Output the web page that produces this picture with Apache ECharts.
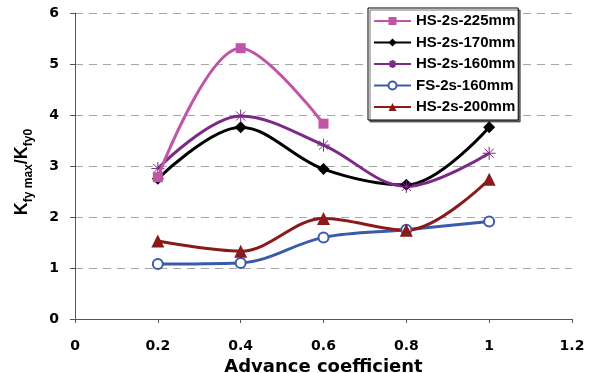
<!DOCTYPE html>
<html><head><meta charset="utf-8">
<script src="https://cdn.jsdelivr.net/npm/echarts@6/dist/echarts.min.js"></script>
<style>html,body{margin:0;padding:0;background:#fff}#c{width:595px;height:373px}</style>
</head><body><div id="c"></div>
<script>
const xValues = [0.2, 0.4, 0.6, 0.8, 1.0];
const hs225 = [2.78, 5.31, 3.83];
const hs170 = [2.75, 3.76, 2.94, 2.63, 3.76];
const hs160 = [2.95, 3.98, 3.41, 2.6, 3.25];
const fs160 = [1.08, 1.1, 1.6, 1.75, 1.91];
const hs200 = [1.53, 1.33, 1.97, 1.74, 2.74];
const names = ['HS-2s-225mm','HS-2s-170mm','HS-2s-160mm','FS-2s-160mm','HS-2s-200mm'];

const pair = arr => arr.map((v,i)=>[xValues[i], v]);
const font = 'Liberation Sans, Arial, sans-serif';
const wide = 'DejaVu Sans, sans-serif';
const chart = echarts.init(document.getElementById('c'));
const asterisk = 'path://M5,0L5,10M0,5L10,5M1.5,1.5L8.5,8.5M8.5,1.5L1.5,8.5';
chart.setOption({
  animation:false,
  grid:{left:75,right:23,top:13,bottom:54, containLabel:false, outerBoundsMode:'none'},
  legend:{
    orient:'vertical', left:368, top:8, padding:[5.5,3,5.5,5], itemGap:6.5,
    itemWidth:37, itemHeight:10,
    backgroundColor:'#fff', borderColor:'#000', borderWidth:1,
    shadowColor:'rgba(0,0,0,0.55)', shadowOffsetX:2, shadowOffsetY:2, shadowBlur:0,
    textStyle:{fontFamily:font, fontWeight:'bold', fontSize:15, color:'#000'},
    data:names
  },
  xAxis:{
    type:'value', min:0, max:1.2, interval:0.2,
    name:'Advance coefficient', nameLocation:'middle', nameGap:31,
    nameTextStyle:{fontFamily:wide, fontWeight:'bold', fontSize:18, color:'#000'},
    axisLine:{lineStyle:{color:'#555',width:1}},
    axisTick:{show:true, length:4, lineStyle:{color:'#555'}},
    axisLabel:{fontFamily:wide, fontWeight:'bold', fontSize:14, color:'#000', margin:20,
      formatter:v=>String(+v.toFixed(1))},
    splitLine:{show:false}
  },
  yAxis:{
    type:'value', min:0, max:6, interval:1,
    name:'{a|K}{b|fy max}{a|/K}{b|fy0}', nameLocation:'middle', nameGap:44, nameRotate:90,
    nameTextStyle:{padding:[0,12,0,0], rich:{
      a:{fontFamily:font, fontWeight:'bold', fontSize:18, color:'#000', verticalAlign:'bottom', lineHeight:20},
      b:{fontFamily:font, fontWeight:'bold', fontSize:12, color:'#000', verticalAlign:'bottom', lineHeight:14, padding:[0,0,-4,0]}
    }},
    axisLine:{show:true, lineStyle:{color:'#555',width:1}},
    axisTick:{show:true, length:5, lineStyle:{color:'#555'}},
    axisLabel:{fontFamily:wide, fontWeight:'bold', fontSize:14, color:'#000', margin:16},
    splitLine:{show:true, lineStyle:{color:'#a6a6a6', type:[8,6], width:1}}
  },
  series:[
    {name:names[0], type:'line', smooth:0.35, data:pair(hs225), symbol:'rect', symbolSize:10,
      lineStyle:{color:'#C055A8', width:3}, itemStyle:{color:'#C055A8'}, z:5},
    {name:names[1], type:'line', smooth:0.35, data:pair(hs170), symbol:'diamond', symbolSize:12,
      lineStyle:{color:'#000', width:3}, itemStyle:{color:'#000'}},
    {name:names[2], type:'line', smooth:0.35, data:pair(hs160), symbol:asterisk, symbolSize:13,
      lineStyle:{color:'#7B2A86', width:3}, itemStyle:{color:'#7B2A86', borderColor:'#7B2A86', borderWidth:1}},
    {name:names[3], type:'line', smooth:0.35, data:pair(fs160), symbol:'emptyCircle', symbolSize:10,
      lineStyle:{color:'#3A5BAA', width:3}, itemStyle:{color:'#3A5BAA', borderWidth:1}},
    {name:names[4], type:'line', smooth:0.35, data:pair(hs200), symbol:'triangle', symbolSize:13,
      lineStyle:{color:'#8B1A1A', width:3}, itemStyle:{color:'#8B1A1A'}}
  ]
});
</script></body></html>
